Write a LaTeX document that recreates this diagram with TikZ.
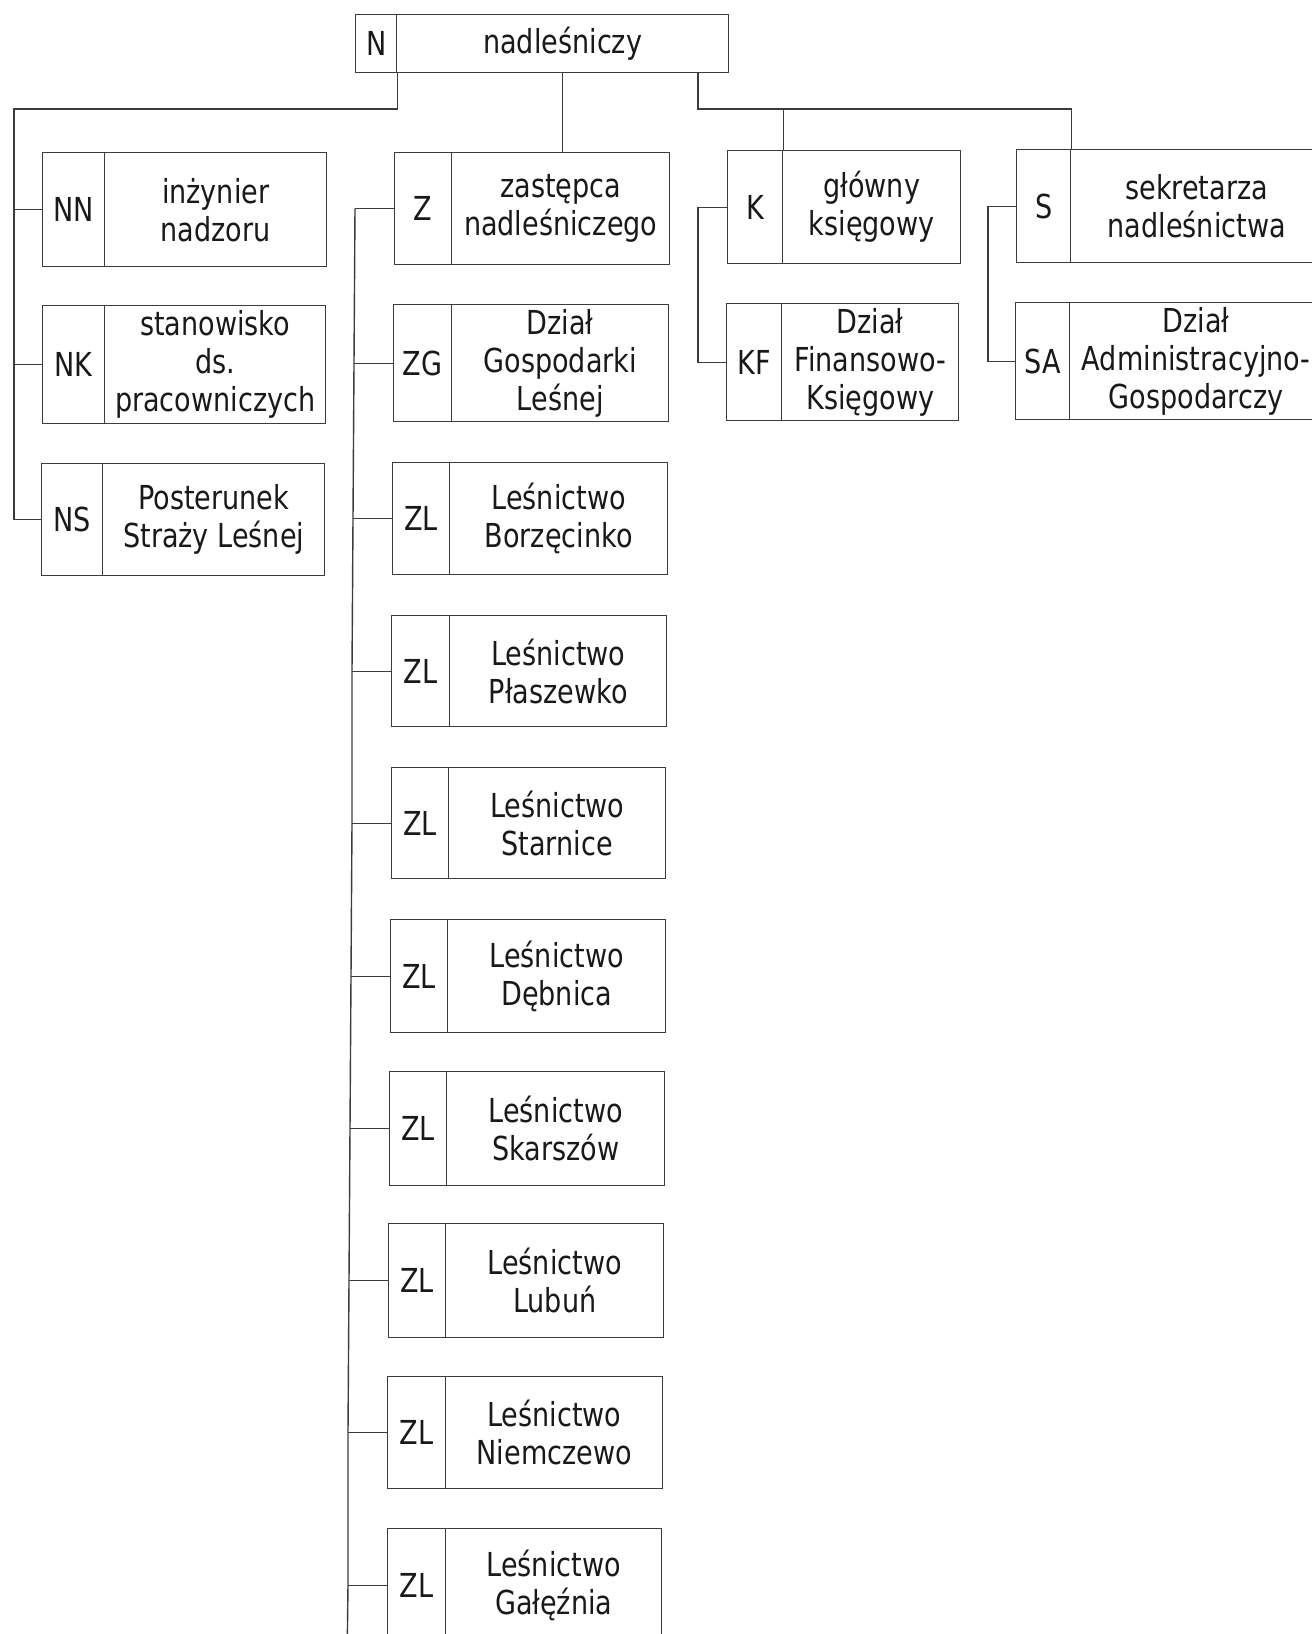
\documentclass[tikz,border=0pt]{standalone}
\usepackage{fontspec}
\setmainfont[FakeStretch=0.82]{DejaVu Sans}
\usetikzlibrary{calc}
\newcommand\orgfont{\fontsize{33}{38}\selectfont}
\definecolor{linecol}{RGB}{60,60,60}
\definecolor{textcol}{RGB}{25,25,25}
\tikzset{
  cell/.style={draw=linecol, line width=1.4pt, inner sep=0pt, align=center,
               font=\orgfont, text=textcol, anchor=north west},
  conn/.style={draw=linecol, line width=1.4pt}
}
% name, x1, y1, xdivider, x2, y2, code, text
\newcommand\orgunit[8]{%
  \node[cell, minimum width=#4pt-#2pt, minimum height=#6pt-#3pt] (#1-c) at (#2,#3) {#7};
  \node[cell, minimum width=#5pt-#4pt, minimum height=#6pt-#3pt] (#1-t) at (#4,#3) {#8};
}
\begin{document}
\begin{tikzpicture}[x=1pt,y=-1pt]
\path[use as bounding box, fill=white] (0,0) rectangle (1312,1634);
\clip (0,0) rectangle (1312,1634);

\orgunit{n}{355}{14}{396}{728}{72}{N}{nadleśniczy}

\orgunit{nn}{42}{152}{104}{326}{266}{NN}{inżynier\\nadzoru}
\orgunit{nk}{42}{305}{104}{325}{423}{NK}{stanowisko\\ds.\\pracowniczych}
\orgunit{ns}{41}{463}{102}{324}{575}{NS}{Posterunek\\Straży Leśnej}

\orgunit{z}{394}{152}{451}{669}{264}{Z}{zastępca\\nadleśniczego}
\orgunit{zg}{393}{304}{451}{668}{421}{ZG}{Dział\\Gospodarki\\Leśnej}
\orgunit{zl1}{392}{462}{449}{667}{574}{ZL}{Leśnictwo\\Borzęcinko}
\orgunit{zl2}{391}{615}{449}{666}{726}{ZL}{Leśnictwo\\Płaszewko}
\orgunit{zl3}{391}{767}{448}{665}{878}{ZL}{Leśnictwo\\Starnice}
\orgunit{zl4}{390}{919}{447}{665}{1032}{ZL}{Leśnictwo\\Dębnica}
\orgunit{zl5}{389}{1071}{446}{664}{1185}{ZL}{Leśnictwo\\Skarszów}
\orgunit{zl6}{388}{1223}{445}{663}{1337}{ZL}{Leśnictwo\\Lubuń}
\orgunit{zl7}{387}{1376}{445}{662}{1488}{ZL}{Leśnictwo\\Niemczewo}
\orgunit{zl8}{387}{1528}{445}{661}{1641}{ZL}{Leśnictwo\\Gałęźnia}

\orgunit{k}{727}{150}{782}{960}{263}{K}{główny\\księgowy}
\orgunit{kf}{726}{303}{781}{958}{420}{KF}{Dział\\Finansowo-\\Księgowy}

\orgunit{s}{1016}{149}{1070}{1322}{262}{S}{sekretarza\\nadleśnictwa}
\orgunit{sa}{1015}{302}{1069}{1322}{419}{SA}{Dział\\Administracyjno-\\Gospodarczy}

% junction coordinates
\coordinate (jl) at (14,109);
\coordinate (jr) at (698,109);
\coordinate (kx) at (698,0);
\coordinate (sx) at (988,0);

% left branch
\draw[conn] (n-c.south east) |- (jl) |- (ns-c.west);
\draw[conn] (nn-c.west) -- (nn-c.west -| jl);
\draw[conn] (nk-c.west) -- (nk-c.west -| jl);

% middle branch
\draw[conn] (n-t.south) -- (n-t.south |- z-t.north);

% right branch
\draw[conn] (n-t.south -| jr) -- (jr) -| (s-c.north east);
\draw[conn] (k-c.north east) -- (k-c.north east |- jr);

% Z trunk
\foreach \r in {z,zg,zl1,zl2,zl3,zl4,zl5,zl6,zl7,zl8}{
  \coordinate (\r-j) at ($(\r-c.west)+(-39,0)$);
}
\draw[conn] (z-j) -- (zg-j) -- (zl1-j) -- (zl2-j) -- (zl3-j) -- (zl4-j) -- (zl5-j) -- (zl6-j) -- (zl7-j) -- (zl8-j) -- ++(-1,80);
\foreach \r in {z,zg,zl1,zl2,zl3,zl4,zl5,zl6,zl7,zl8}{
  \draw[conn] (\r-j) -- (\r-c.west);
}

% K trunk
\draw[conn] (k-c.west) -- (k-c.west -| kx) |- (kf-c.west);
% S trunk
\draw[conn] (s-c.west) -- (s-c.west -| sx) |- (sa-c.west);
\end{tikzpicture}
\end{document}
